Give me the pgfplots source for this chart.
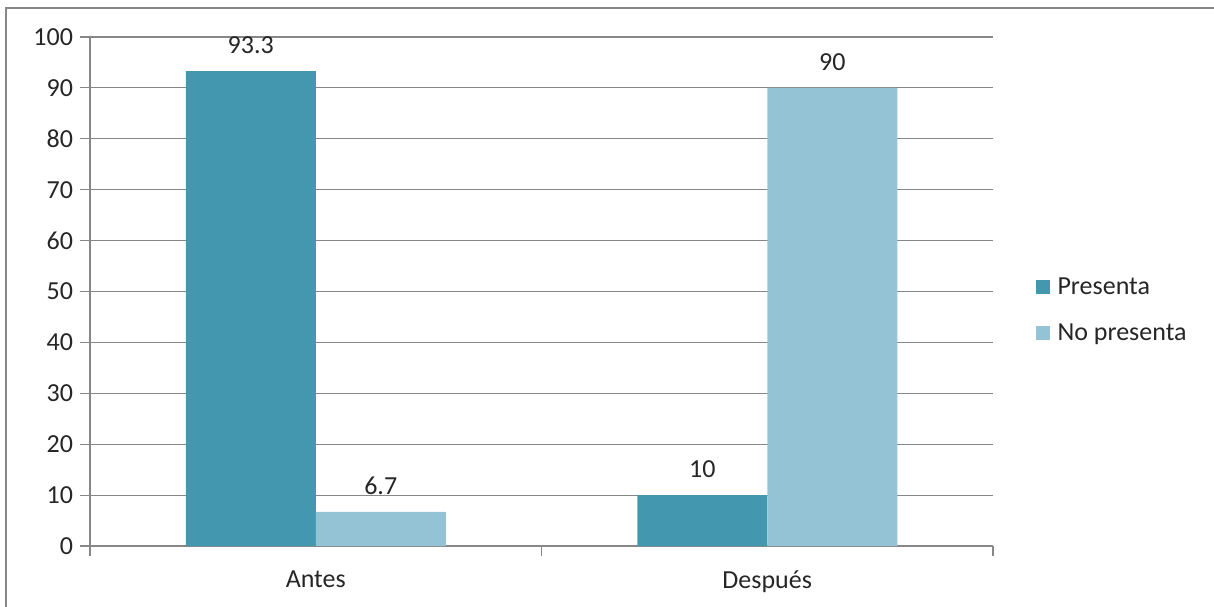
\documentclass[border=0pt]{standalone}
\usepackage{fontspec}
\setmainfont{Carlito}
\usepackage{pgfplots}
\pgfplotsset{compat=1.18}
\definecolor{cPres}{HTML}{4397AF}
\definecolor{cNo}{HTML}{93C3D4}
\definecolor{gridc}{HTML}{878787}
\begin{document}
\begin{tikzpicture}
\useasboundingbox (0,0) rectangle (607pt,303pt);
\draw[color=gridc, line width=1pt] (3pt,-2pt) -- (3pt,299pt) -- (609pt,299pt);
\begin{axis}[
  at={(45pt,30pt)}, anchor=south west,
  width=451.5pt, height=254.5pt, scale only axis,
  ybar=0pt, bar width=65pt,
  xmin=-0.5, xmax=1.5, ymin=0, ymax=100,
  ytick={0,10,...,100},
  xtick={-0.5,0.5,1.5},
  x tick label as interval,
  xticklabels={Antes,Después},
  axis x line*=bottom, axis y line*=left,
  axis line style={gridc, line width=0.6pt},
  ymajorgrids, grid style={gridc, line width=0.6pt},
  tick align=outside, major tick length=5pt,
  tick style={gridc, line width=0.6pt},
  /pgf/number format/assume math mode=true,
  tick label style={font=\fontsize{13pt}{15pt}\selectfont, text=black!85},
  xticklabel style={yshift=-4pt},
  nodes near coords,
  nodes near coords style={font=\fontsize{13pt}{15pt}\selectfont, text=black!85, yshift=5pt, /pgf/number format/assume math mode=true},
  point meta=explicit symbolic,
  legend style={at={(1.040,0.463)}, anchor=west, draw=none, fill=none,
    font=\fontsize{13pt}{15pt}\selectfont, row sep=9pt, text=black!85},
  legend cell align=left,
  legend image code/.code={\fill[#1] (0pt,-3.5pt) rectangle (7pt,3.5pt); \path (9pt,0pt);},
]
\addplot[fill=cPres, draw=none] coordinates {(0,93.3) [93.3] (1,10) [10]};
\addplot[fill=cNo, draw=none] coordinates {(0,6.7) [6.7] (1,90) [90]};
\legend{Presenta, No presenta}
\end{axis}
\end{tikzpicture}
\end{document}
